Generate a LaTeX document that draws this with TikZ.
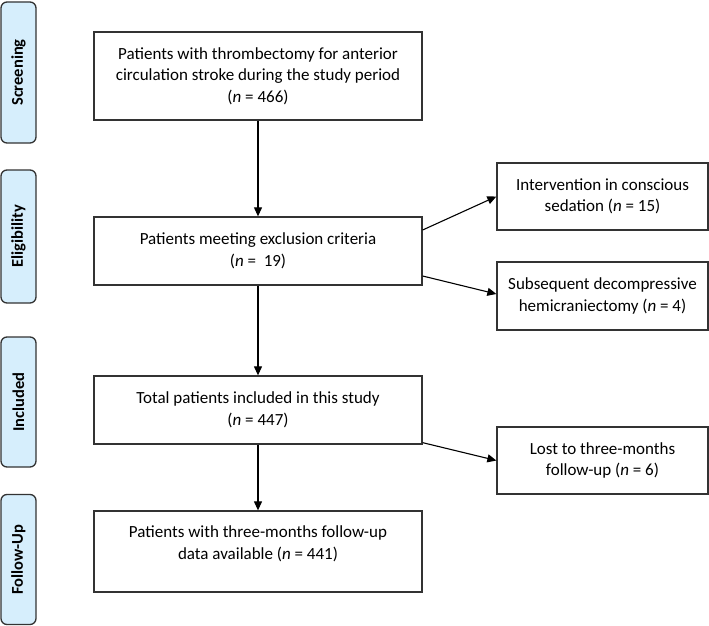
\documentclass[tikz,border=0pt]{standalone}
\usepackage{fontspec}
\setmainfont{Carlito}
\usetikzlibrary{arrows.meta,positioning}
\definecolor{sidefill}{HTML}{D6EEFC}
\definecolor{linegray}{HTML}{333333}
\tikzset{
  mainbox/.style={draw=linegray, line width=1.3pt, rectangle, align=center, font=\fontsize{17}{21.5}\selectfont, inner sep=2pt},
  sidebox/.style={draw=linegray, line width=1.3pt, fill=sidefill, rounded corners=6pt, rotate=90, minimum height=35pt, font=\bfseries\fontsize{16.5}{19}\selectfont, inner sep=0pt},
  conn/.style={draw=black, line width=1.1pt, -{Triangle[length=9pt,width=8pt]}}
}
\begin{document}
\begin{tikzpicture}[x=1pt,y=-1pt]
\useasboundingbox (0,0) rectangle (709,626);
% side labels
\node[sidebox, minimum width=141pt] (s1) at (18.5,72.5) {Screening};
\node[sidebox, minimum width=133pt] (s2) at (18.5,236.5) {Eligibility};
\node[sidebox, minimum width=130pt] (s3) at (18.5,402) {Included};
\node[sidebox, minimum width=130pt] (s4) at (18.5,559.5) {Follow-Up};
% main boxes
\node[mainbox, minimum width=328pt, minimum height=88pt] (b1) at (258,76)
  {Patients with thrombectomy for anterior\\circulation stroke during the study period\\(\textit{n} = 466)};
\node[mainbox, minimum width=328pt, minimum height=68pt] (b2) at (258,251)
  {Patients meeting exclusion criteria\\(\textit{n} =~ 19)};
\node[mainbox, minimum width=328pt, minimum height=68pt] (b3) at (258,410)
  {Total patients included in this study\\(\textit{n} = 447)};
\node[mainbox, minimum width=328pt, minimum height=81pt] (b4) at (258,551.5)
  {Patients with three-months follow-up\\data available (\textit{n} = 441)\\[-4pt]\mbox{}};
% right boxes
\node[mainbox, minimum width=211pt, minimum height=67pt] (r1) at (602.5,196.5)
  {Intervention in conscious\\sedation (\textit{n} = 15)};
\node[mainbox, minimum width=211pt, minimum height=68pt] (r2) at (602.5,296)
  {Subsequent decompressive\\hemicraniectomy (\textit{n} = 4)};
\node[mainbox, minimum width=211pt, minimum height=67pt] (r3) at (602.5,460.5)
  {Lost to three-months\\follow-up (\textit{n} = 6)};
% connector start points
\coordinate (e1) at ([yshift=21pt]b2.east);
\coordinate (e2) at ([yshift=-25pt]b2.east);
\coordinate (e3) at ([yshift=2pt]b3.south east);
% connectors
\draw[conn] (b1) -- (b2);
\draw[conn] (b2) -- (b3);
\draw[conn] (b3) -- (b4);
\draw[conn] (e1) -- (r1.west);
\draw[conn] (e2) -- ([yshift=2pt]r2.west);
\draw[conn] (e3) -- (r3.west);
\end{tikzpicture}
\end{document}
